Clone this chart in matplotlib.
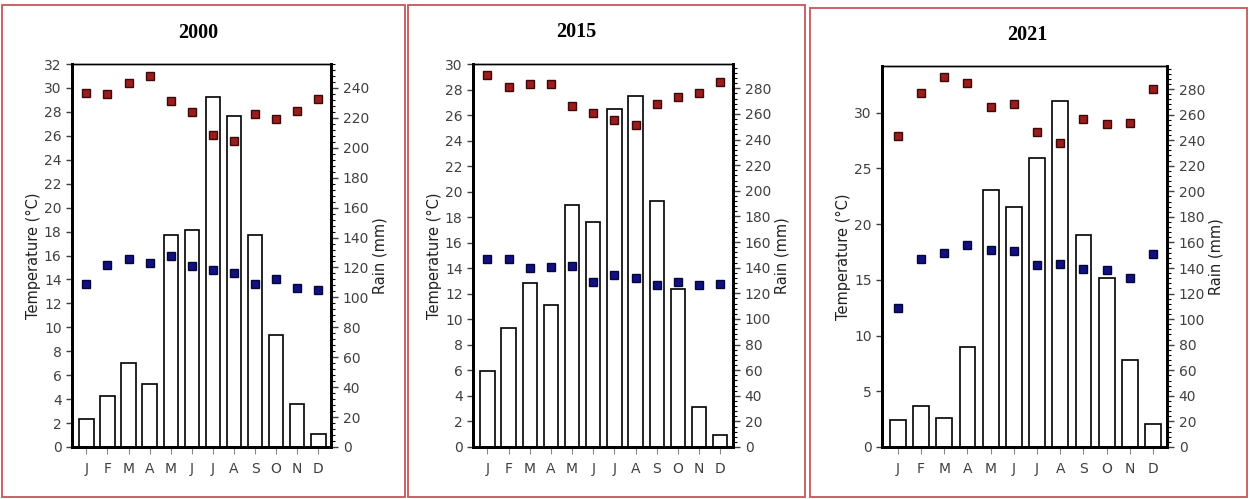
import numpy as np
import matplotlib.pyplot as plt
from matplotlib.patches import Rectangle
from matplotlib.ticker import MultipleLocator, AutoMinorLocator

months = ['J', 'F', 'M', 'A', 'M', 'J', 'J', 'A', 'S', 'O', 'N', 'D']
years = ['2000', '2015', '2021']

# rain (mm)
rain_2000 = [19, 34, 56, 42, 142, 145, 234, 221, 142, 75, 29, 9]
rain_2015 = [59, 93, 128, 111, 189, 176, 264, 274, 192, 123, 31, 9]
rain_2021 = [21, 32, 23, 78, 201, 188, 226, 271, 166, 132, 68, 18]

# max temperature (C)
tmax_2000 = [29.6, 29.5, 30.4, 31.0, 28.9, 28.0, 26.1, 25.6, 27.8, 27.4, 28.1, 29.1]
tmax_2015 = [29.1, 28.2, 28.4, 28.4, 26.7, 26.2, 25.6, 25.2, 26.9, 27.4, 27.7, 28.6]
tmax_2021 = [27.9, 31.8, 33.2, 32.7, 30.5, 30.8, 28.3, 27.3, 29.4, 29.0, 29.1, 32.1]

# min temperature (C)
tmin_2000 = [13.6, 15.2, 15.7, 15.4, 16.0, 15.1, 14.8, 14.5, 13.6, 14.0, 13.3, 13.1]
tmin_2015 = [14.7, 14.7, 14.0, 14.1, 14.2, 12.9, 13.5, 13.2, 12.7, 12.9, 12.7, 12.8]
tmin_2021 = [12.5, 16.9, 17.4, 18.1, 17.7, 17.6, 16.3, 16.4, 16.0, 15.9, 15.2, 17.3]

rains = [rain_2000, rain_2015, rain_2021]
tmaxs = [tmax_2000, tmax_2015, tmax_2021]
tmins = [tmin_2000, tmin_2015, tmin_2021]

W, H = 1250, 499
# axes rectangles in pixels: left, right, top, bottom
ax_px = [(72, 331, 64, 447), (473, 733, 64, 447), (882, 1167, 66, 447)]
box_px = [(2, 405, 5, 497), (408, 805, 5, 497), (810, 1247, 8, 497)]
title_xy = [(198, 33), (576, 32), (1027, 35)]
temp_lim = [32, 30, 34.2]
temp_step = [2, 2, 5]
rain_lim = [256, 299, 298]

fig = plt.figure(figsize=(12.5, 4.99), dpi=100)
fig.patch.set_facecolor('white')

for i in range(3):
    bl, br, bt, bb = box_px[i]
    fig.patches.append(Rectangle((bl / W, 1 - bb / H), (br - bl) / W, (bb - bt) / H,
                                 transform=fig.transFigure, fill=False,
                                 edgecolor='#c8545a', linewidth=1.3))

    l, r, t, b = ax_px[i]
    ax = fig.add_axes([l / W, 1 - b / H, (r - l) / W, (b - t) / H])
    ax2 = ax.twinx()

    x = np.arange(12)
    ax2.bar(x, rains[i], width=0.68, color='white', edgecolor='black', linewidth=1.2, zorder=1)
    ax.plot(x, tmaxs[i], 's', color='#9c1c1c', mec='#3a0a0a', ms=5.5, zorder=5)
    ax.plot(x, tmins[i], 's', color='#101080', mec='#05053a', ms=5.5, zorder=5)

    # temperature points on top of bars
    ax.set_zorder(ax2.get_zorder() + 1)
    ax.patch.set_visible(False)

    ax.set_xlim(-0.68, 11.6)
    ax.set_ylim(0, temp_lim[i])
    ax2.set_ylim(0, rain_lim[i])
    ax.yaxis.set_major_locator(MultipleLocator(temp_step[i]))
    ax2.yaxis.set_major_locator(MultipleLocator(20))
    ax2.yaxis.set_minor_locator(AutoMinorLocator(5))

    ax.set_xticks(x)
    ax.set_xticklabels(months)

    for a in (ax, ax2):
        for s in a.spines.values():
            s.set_linewidth(1.0)
        a.spines['left'].set_linewidth(2.0)
        a.spines['bottom'].set_linewidth(2.0)
        a.spines['right'].set_linewidth(2.0)
        a.tick_params(labelsize=10, labelcolor='#404040', color='#404040')

    ax.tick_params(axis='x', direction='out', length=5, pad=6, width=0.8, color='#888888')
    ax.tick_params(axis='y', direction='out', length=4, width=1.0)
    ax2.tick_params(axis='y', which='major', direction='out', length=5, width=1.0)
    ax2.tick_params(axis='y', which='minor', direction='out', length=3, width=0.8)

    ax.set_ylabel('Temperature (°C)', fontsize=10.5, color='#202020', labelpad=2)
    ax2.set_ylabel('Rain (mm)', fontsize=10.5, color='#202020', labelpad=2)

    tx, ty = title_xy[i]
    fig.text(tx / W, 1 - ty / H, years[i], ha='center', va='center',
             fontsize=14.5, fontweight='bold', family='Liberation Serif')

plt.savefig('out.png', dpi=100)
